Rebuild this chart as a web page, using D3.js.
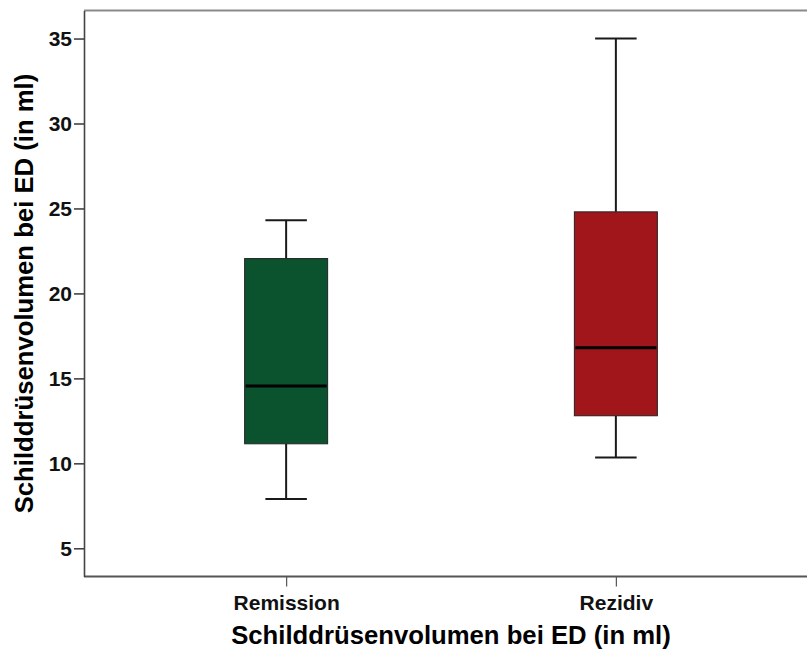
<!DOCTYPE html>
<html>
<head>
<meta charset="utf-8">
<script src="https://cdn.jsdelivr.net/npm/d3@7"></script>
<style>
  body { margin: 0; background: #fff; }
  svg { display: block; font-family: "Liberation Sans", Arial, sans-serif; }
</style>
</head>
<body>
<svg id="vis"></svg>
<script>
// box plot values
const groups = ['Remission', 'Rezidiv'];
const whiskerLow = [7.9, 10.35];
const quart1 = [11.15, 12.8];
const medians = [14.55, 16.8];
const quart3 = [22.05, 24.8];
const whiskerHigh = [24.3, 35.0];
const yTicks = [5, 10, 15, 20, 25, 30, 35];
const boxColours = ['#0b532e', '#a0161b'];
const axisTitle = 'Schilddrüsenvolumen bei ED (in ml)';

const width = 807, height = 655;
const plotLeft = 84, plotRight = 818, plotTop = 10.5, plotBottom = 576.5;

var svg = d3.select('#vis').attr('width', width).attr('height', height);

var x = d3.scalePoint().domain(groups).range([plotLeft, plotRight]).padding(0.613);
var y = d3.scaleLinear().domain([3.34, 36.65]).range([plotBottom, plotTop]);
var boxWidth = 83;

// frame (right edge falls outside the picture)
svg.append('line').attr('x1', plotLeft).attr('x2', plotRight).attr('y1', plotTop).attr('y2', plotTop)
    .attr('stroke', '#8a8a8a').attr('stroke-width', 2);
svg.append('line').attr('x1', plotLeft).attr('x2', plotRight).attr('y1', plotBottom).attr('y2', plotBottom)
    .attr('stroke', '#555').attr('stroke-width', 2);

var yAxis = svg.append('g').attr('transform', 'translate(' + plotLeft + ',0)')
    .call(d3.axisLeft(y).tickValues(yTicks).tickSize(10).tickPadding(2).tickSizeOuter(0));
yAxis.select('.domain').attr('stroke', '#444').attr('stroke-width', 1.6);
yAxis.selectAll('.tick line').attr('stroke', '#444').attr('stroke-width', 1.6);
yAxis.selectAll('.tick text').attr('font-size', 21).attr('fill', '#111').attr('font-weight', 'bold')
    .attr('font-family', '"Liberation Sans", Arial, sans-serif');

var xAxis = svg.append('g').attr('transform', 'translate(0,' + plotBottom + ')')
    .call(d3.axisBottom(x).tickSize(10).tickPadding(9).tickSizeOuter(0));
xAxis.select('.domain').remove();
xAxis.selectAll('.tick line').attr('stroke', '#555').attr('stroke-width', 1.2);
xAxis.selectAll('.tick text').attr('font-size', 21).attr('fill', '#111').attr('font-weight', 'bold')
    .attr('font-family', '"Liberation Sans", Arial, sans-serif');

var boxes = svg.append('g').selectAll('g').data(groups).enter().append('g');

boxes.append('line')
    .attr('x1', d => x(d)).attr('x2', d => x(d))
    .attr('y1', (d, i) => y(whiskerHigh[i])).attr('y2', (d, i) => y(quart3[i]))
    .attr('stroke', '#1a1a1a').attr('stroke-width', 2);
boxes.append('line')
    .attr('x1', d => x(d)).attr('x2', d => x(d))
    .attr('y1', (d, i) => y(quart1[i])).attr('y2', (d, i) => y(whiskerLow[i]))
    .attr('stroke', '#1a1a1a').attr('stroke-width', 2);
boxes.append('line')
    .attr('x1', d => x(d) - boxWidth / 4).attr('x2', d => x(d) + boxWidth / 4)
    .attr('y1', (d, i) => y(whiskerHigh[i])).attr('y2', (d, i) => y(whiskerHigh[i]))
    .attr('stroke', '#1a1a1a').attr('stroke-width', 2);
boxes.append('line')
    .attr('x1', d => x(d) - boxWidth / 4).attr('x2', d => x(d) + boxWidth / 4)
    .attr('y1', (d, i) => y(whiskerLow[i])).attr('y2', (d, i) => y(whiskerLow[i]))
    .attr('stroke', '#1a1a1a').attr('stroke-width', 2);

boxes.append('rect')
    .attr('x', d => x(d) - boxWidth / 2).attr('width', boxWidth)
    .attr('y', (d, i) => y(quart3[i])).attr('height', (d, i) => y(quart1[i]) - y(quart3[i]))
    .attr('fill', (d, i) => boxColours[i]).attr('stroke', '#222').attr('stroke-width', 1);

boxes.append('line')
    .attr('x1', d => x(d) - boxWidth / 2 + 1).attr('x2', d => x(d) + boxWidth / 2 - 1)
    .attr('y1', (d, i) => y(medians[i])).attr('y2', (d, i) => y(medians[i]))
    .attr('stroke', '#000').attr('stroke-width', 3);

// axis titles
svg.append('text').attr('x', (plotLeft + plotRight) / 2).attr('y', 644)
    .attr('text-anchor', 'middle').attr('font-size', 25.7).attr('font-weight', 'bold').attr('fill', '#000')
    .text(axisTitle);
svg.append('text').attr('transform', 'translate(33,' + (plotTop + plotBottom) / 2 + ') rotate(-90)')
    .attr('text-anchor', 'middle').attr('font-size', 25.7).attr('font-weight', 'bold').attr('fill', '#000')
    .text(axisTitle);
</script>
</body>
</html>
